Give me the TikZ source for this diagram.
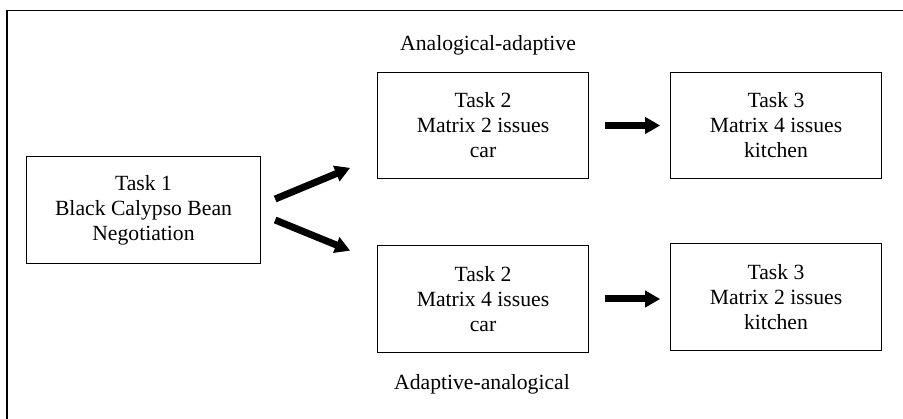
\documentclass[tikz,border=0pt]{standalone}
\usepackage{fontspec}
\setmainfont{Liberation Serif}
\usetikzlibrary{arrows.meta,positioning,calc}

\begin{document}
\begin{tikzpicture}[x=0.6pt,y=-0.6pt,font=\fontsize{13}{15}\selectfont,
				task/.style={draw,line width=0.7pt,align=center,inner sep=0,outer sep=0,minimum width=127pt,minimum height=64pt},
				bigarrow/.style={line width=4.2pt,-{Triangle[length=9pt,width=9.6pt]}}]
				\useasboundingbox (0,0) rectangle (903,419);
				% frame, cut off at right and bottom
				\draw[line width=1pt] (7,419) -- (7,10.5) -- (903,10.5);
				
				\node[task, minimum width=140pt] (t1) at (143.5, 210) {Task 1\\Black Calypso Bean\\Negotiation};
				
				\node[task] (t2a) at (483, 125.5) {Task 2\\Matrix 2 issues\\car};
				\node[task] (t3a) at (776, 125.5) {Task 3\\Matrix 4 issues\\kitchen};
				\node[task] (t2b) at (483, 299) {Task 2\\Matrix 4 issues\\car};
				\node[task] (t3b) at (776, 297) {Task 3\\Matrix 2 issues\\kitchen};
				
				\node (anad) at (488, 45) {Analogical-adaptive};
				\node (adan) at (482, 384) {Adaptive-analogical};
				
				\coordinate (upS) at ($(t1.east)+(15,-11)$);
				\coordinate (upE) at ($(t2a.south west)+(-27,-11)$);
				\coordinate (loS) at ($(t1.east)+(15,10)$);
				\coordinate (loE) at ($(t2b.north west)+(-27,5)$);
				
				\draw[bigarrow] (upS) -- (upE);
				\draw[bigarrow] (loS) -- (loE);
				\draw[bigarrow, shorten <=16pt*0.6, shorten >=10pt*0.6] (t2a) -- (t3a);
				\draw[bigarrow, shorten <=16pt*0.6, shorten >=10pt*0.6] (t2b.east) -- (t2b.east -| t3b.west);
			\end{tikzpicture}
\end{document}
